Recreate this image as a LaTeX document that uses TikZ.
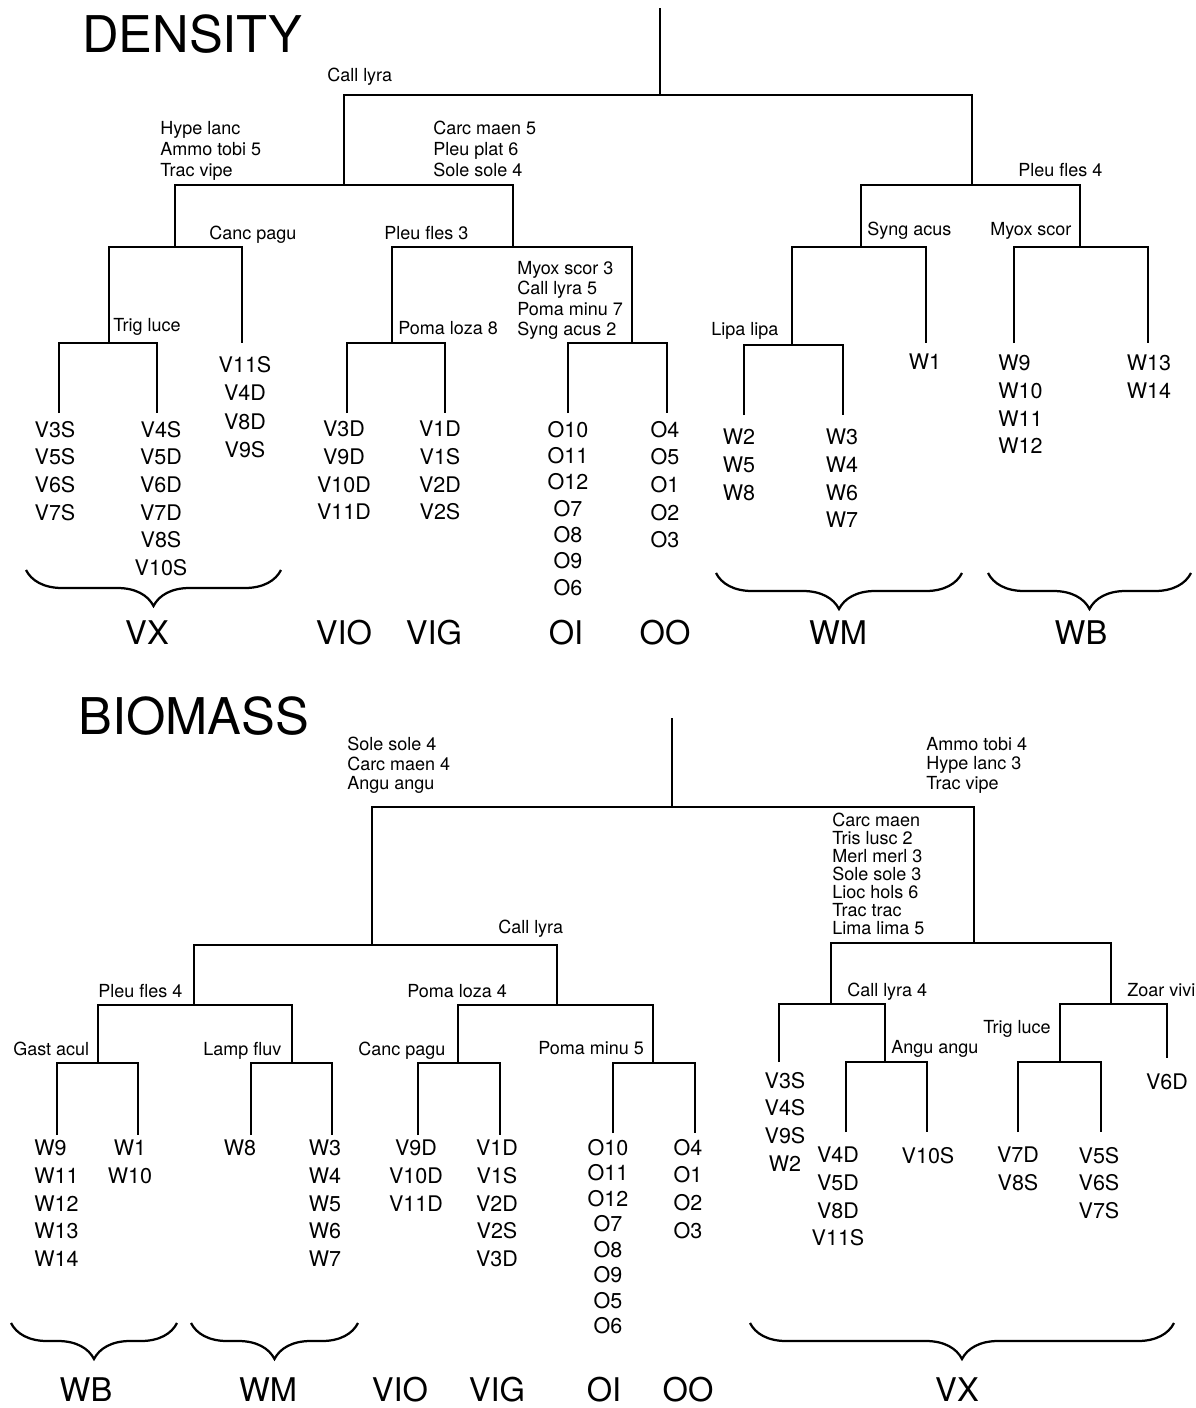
\documentclass[tikz,border=0pt]{standalone}
\usepackage{fontspec}
\setmainfont{TeX Gyre Heros}
\usetikzlibrary{decorations.pathreplacing}

\tikzset{
    bar/.style={line width=2pt},
    spp/.style={inner sep=0pt, anchor=north west, align=left, font=\fontsize{12.8}{14.9}\selectfont},
    site/.style={inner sep=0pt, anchor=north, align=center, font=\fontsize{15.3}{19.6}\selectfont},
    grp/.style={inner sep=0pt, font=\fontsize{23.2}{26}\selectfont},
    ttl/.style={inner sep=0pt, anchor=west, font=\fontsize{36}{40}\selectfont},
    brc/.style={decorate, decoration={brace, mirror, amplitude=0.9cm}, line width=1.6pt},
}

\begin{document}
\begin{tikzpicture}[x=0.025cm, y=-0.025cm]
        \useasboundingbox (0,0) rectangle (1196,1408);

        % DENSITY
        \node[ttl] (dtitle) at (82,34) {DENSITY};
        \coordinate (dtop) at (660,8);
        \coordinate (d0) at (660,95);
        \coordinate (d1) at (344,185);
        \coordinate (d2) at (972,185);
        \coordinate (d11) at (175,247);
        \coordinate (d12) at (513,247);
        \coordinate (d111) at (109,343);
        \coordinate (d112) at (242,343);
        \coordinate (d1111) at (59,413);
        \coordinate (d1112) at (157,413);
        \coordinate (d121) at (392,343);
        \coordinate (d122) at (632,343);
        \coordinate (d1211) at (347,413);
        \coordinate (d1212) at (445,413);
        \coordinate (d1221) at (568,413);
        \coordinate (d1222) at (667,413);
        \coordinate (d21) at (861,247);
        \coordinate (d22) at (1080,247);
        \coordinate (d211) at (792,345);
        \coordinate (d212) at (926,343);
        \coordinate (d2111) at (744,415);
        \coordinate (d2112) at (843,415);
        \coordinate (d221) at (1014,343);
        \coordinate (d222) at (1148,343);

        \draw[bar] (dtop) -- (d0);
        \draw[bar] (d1) |- (d0) -| (d2);
        \draw[bar] (d11) |- (d1) -| (d12);
        \draw[bar] (d111) |- (d11) -| (d112);
        \draw[bar] (d1111) |- (d111) -| (d1112);
        \draw[bar] (d121) |- (d12) -| (d122);
        \draw[bar] (d1211) |- (d121) -| (d1212);
        \draw[bar] (d1221) |- (d122) -| (d1222);
        \draw[bar] (d21) |- (d2) -| (d22);
        \draw[bar] (d211) |- (d21) -| (d212);
        \draw[bar] (d2111) |- (d211) -| (d2112);
        \draw[bar] (d221) |- (d22) -| (d222);

        \node[spp] (dcall) at (327,68) {Call lyra};
        \node[spp] (dhype) at (160,121) {Hype lanc\\Ammo tobi 5\\Trac vipe};
        \node[spp] (dcarc) at (433,121) {Carc maen 5\\Pleu plat 6\\Sole sole 4};
        \node[spp] (dcanc) at (209,226) {Canc pagu};
        \node[spp] (dpleu3) at (384,226) {Pleu fles 3};
        \node[spp, font=\fontsize{12.8}{14.5}\selectfont] (dmyox3) at (517,261) {Myox scor 3\\Call lyra 5\\Poma minu 7\\Syng acus 2};
        \node[spp] (dtrig) at (113,318) {Trig luce};
        \node[spp] (dpoma) at (398,321) {Poma loza 8};
        \node[spp] (dpleu4) at (1018,163) {Pleu fles 4};
        \node[spp] (dsyng) at (867,222) {Syng acus};
        \node[spp] (dmyox) at (990,222) {Myox scor};
        \node[spp] (dlipa) at (711,322) {Lipa lipa};

        \node[site] (dv3s) at (55,421) {V3S\\V5S\\V6S\\V7S};
        \node[site] (dv4s) at (161,421) {V4S\\V5D\\V6D\\V7D\\V8S\\V10S};
        \node[site, font=\fontsize{15.3}{20.3}\selectfont] (dv11s) at (245,356) {V11S\\V4D\\V8D\\V9S};
        \node[site] (dv3d) at (344,421) {V3D\\V9D\\V10D\\V11D};
        \node[site] (dv1d) at (440,421) {V1D\\V1S\\V2D\\V2S};
        \node[site, font=\fontsize{15.3}{18.7}\selectfont] (do10) at (568,421) {O10\\O11\\O12\\O7\\O8\\O9\\O6};
        \node[site] (do4) at (665,421) {O4\\O5\\O1\\O2\\O3};
        \node[site] (dw2) at (739,429) {W2\\W5\\W8};
        \node[site] (dw3) at (842,429) {W3\\W4\\W6\\W7};
        \node[site] (dw1) at (925,354) {W1};
        \node[site, anchor=north west, align=left] (dw9) at (998,355) {W9\\W10\\W11\\W12};
        \node[site] (dw13) at (1149,355) {W13\\W14};

        \coordinate (dvxa) at (26,570);
        \coordinate (dvxb) at (281,570);
        \coordinate (dwma) at (716,573);
        \coordinate (dwmb) at (962,573);
        \coordinate (dwba) at (988,573);
        \coordinate (dwbb) at (1191,573);
        \draw[brc] (dvxa) -- (dvxb);
        \draw[brc] (dwma) -- (dwmb);
        \draw[brc] (dwba) -- (dwbb);

        \node[grp] (dvx) at (147,633) {VX};
        \node[grp] (dvio) at (344,633) {VIO};
        \node[grp] (dvig) at (434,633) {VIG};
        \node[grp] (doi) at (566,633) {OI};
        \node[grp] (doo) at (665,633) {OO};
        \node[grp] (dwm) at (838,633) {WM};
        \node[grp] (dwb) at (1081,633) {WB};

        % BIOMASS
        \node[ttl] (btitle) at (78,716) {BIOMASS};
        \coordinate (btop) at (672,718);
        \coordinate (b0) at (672,807);
        \coordinate (b1) at (372,945);
        \coordinate (b2) at (974,943);
        \coordinate (b11) at (194,1005);
        \coordinate (b12) at (557,1005);
        \coordinate (b111) at (98,1063);
        \coordinate (b112) at (292,1063);
        \coordinate (b1111) at (57,1135);
        \coordinate (b1112) at (138,1135);
        \coordinate (b1121) at (251,1135);
        \coordinate (b1122) at (332,1135);
        \coordinate (b121) at (458,1063);
        \coordinate (b122) at (653,1063);
        \coordinate (b1211) at (418,1135);
        \coordinate (b1212) at (500,1135);
        \coordinate (b1221) at (613,1133);
        \coordinate (b1222) at (695,1133);
        \coordinate (b21) at (831,1004);
        \coordinate (b22) at (1111,1004);
        \coordinate (b211) at (779,1062);
        \coordinate (b212) at (885,1062);
        \coordinate (b2121) at (846,1132);
        \coordinate (b2122) at (927,1132);
        \coordinate (b221) at (1060,1062);
        \coordinate (b222) at (1167,1058);
        \coordinate (b2211) at (1018,1132);
        \coordinate (b2212) at (1101,1132);

        \draw[bar] (btop) -- (b0);
        \draw[bar] (b1) |- (b0) -| (b2);
        \draw[bar] (b11) |- (b1) -| (b12);
        \draw[bar] (b111) |- (b11) -| (b112);
        \draw[bar] (b1111) |- (b111) -| (b1112);
        \draw[bar] (b1121) |- (b112) -| (b1122);
        \draw[bar] (b121) |- (b12) -| (b122);
        \draw[bar] (b1211) |- (b121) -| (b1212);
        \draw[bar] (b1221) |- (b122) -| (b1222);
        \draw[bar] (b21) |- (b2) -| (b22);
        \draw[bar] (b211) |- (b21) -| (b212);
        \draw[bar] (b2121) |- (b212) -| (b2122);
        \draw[bar] (b221) |- (b22) -| (b222);
        \draw[bar] (b2211) |- (b221) -| (b2212);

        \node[spp, font=\fontsize{12.8}{13.9}\selectfont] (bsole) at (347,737) {Sole sole 4\\Carc maen 4\\Angu angu};
        \node[spp, font=\fontsize{12.8}{13.9}\selectfont] (bammo) at (926,737) {Ammo tobi 4\\Hype lanc 3\\Trac vipe};
        \node[spp, font=\fontsize{12.8}{12.8}\selectfont] (bcarc) at (832,813) {Carc maen\\Tris lusc 2\\Merl merl 3\\Sole sole 3\\Lioc hols 6\\Trac trac\\Lima lima 5};
        \node[spp] (bcall) at (498,920) {Call lyra};
        \node[spp] (bpleu) at (98,984) {Pleu fles 4};
        \node[spp] (bpoma) at (407,984) {Poma loza 4};
        \node[spp] (bgast) at (13,1042) {Gast acul};
        \node[spp] (blamp) at (203,1042) {Lamp fluv};
        \node[spp] (bcanc) at (358,1042) {Canc pagu};
        \node[spp] (bpomm) at (538,1041) {Poma minu 5};
        \node[spp] (bcall4) at (847,983) {Call lyra 4};
        \node[spp] (bangu) at (891,1040) {Angu angu};
        \node[spp] (btrig) at (983,1020) {Trig luce};
        \node[spp] (bzoar) at (1127,983) {Zoar vivi};

        \node[site, anchor=north west, align=left] (bw9) at (34,1140) {W9\\W11\\W12\\W13\\W14};
        \node[site] (bw1) at (130,1140) {W1\\W10};
        \node[site] (bw8) at (240,1140) {W8};
        \node[site] (bw3) at (325,1140) {W3\\W4\\W5\\W6\\W7};
        \node[site] (bv9d) at (416,1140) {V9D\\V10D\\V11D};
        \node[site] (bv1d) at (497,1140) {V1D\\V1S\\V2D\\V2S\\V3D};
        \node[site, font=\fontsize{15.3}{18.1}\selectfont] (bo10) at (608,1139) {O10\\O11\\O12\\O7\\O8\\O9\\O5\\O6};
        \node[site] (bo4) at (688,1139) {O4\\O1\\O2\\O3};
        \node[site] (bv3s) at (785,1072) {V3S\\V4S\\V9S\\W2};
        \node[site] (bv4d) at (838,1147) {V4D\\V5D\\V8D\\V11S};
        \node[site] (bv10s) at (928,1147) {V10S};
        \node[site] (bv7d) at (1018,1147) {V7D\\V8S};
        \node[site] (bv5s) at (1099,1147) {V5S\\V6S\\V7S};
        \node[site] (bv6d) at (1167,1074) {V6D};

        \coordinate (bwba) at (11,1323);
        \coordinate (bwbb) at (177,1323);
        \coordinate (bwma) at (191,1323);
        \coordinate (bwmb) at (358,1323);
        \coordinate (bvxa) at (750,1323);
        \coordinate (bvxb) at (1174,1323);
        \draw[brc] (bwba) -- (bwbb);
        \draw[brc] (bwma) -- (bwmb);
        \draw[brc] (bvxa) -- (bvxb);

        \node[grp] (bwb) at (86,1390) {WB};
        \node[grp] (bwm) at (268,1390) {WM};
        \node[grp] (bvio) at (400,1390) {VIO};
        \node[grp] (bvig) at (497,1390) {VIG};
        \node[grp] (boi) at (604,1390) {OI};
        \node[grp] (boo) at (688,1390) {OO};
        \node[grp] (bvx) at (957,1390) {VX};
    \end{tikzpicture}
\end{document}
